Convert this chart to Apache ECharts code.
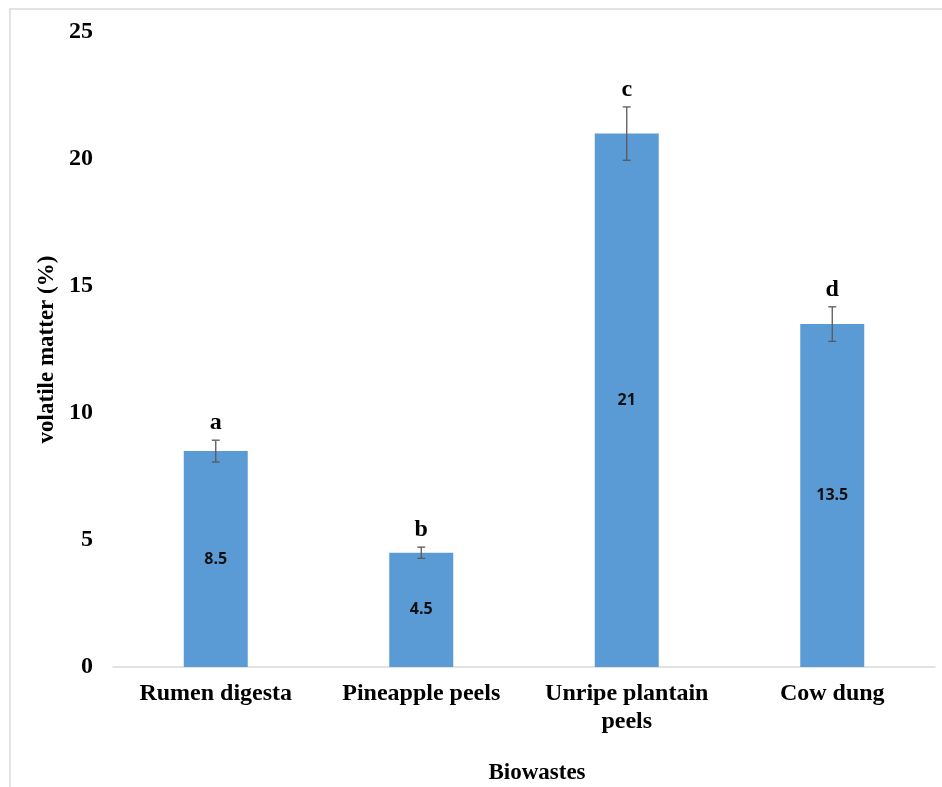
<!DOCTYPE html>
<html>
<head>
<meta charset="utf-8">
<script src="https://cdn.jsdelivr.net/npm/echarts@6/dist/echarts.min.js"></script>
<style>html,body{margin:0;padding:0;background:#fff}#c{width:942px;height:787px}</style>
</head>
<body>
<div id="c"></div>
<script>
var categories = ['Rumen digesta', 'Pineapple peels', 'Unripe plantain\npeels', 'Cow dung'];
var values = [8.5, 4.5, 21, 13.5];
var errors = [0.43, 0.22, 1.05, 0.68];
var letters = ['a', 'b', 'c', 'd'];
var yTicks = [0, 5, 10, 15, 20, 25];

var serif = '"Liberation Serif", "Times New Roman", serif';
var chart = echarts.init(document.getElementById('c'));
var errData = values.map(function (v, i) { return [i, v - errors[i], v + errors[i], letters[i]]; });

chart.setOption({
  animation: false,
  backgroundColor: '#fff',
  grid: { left: 113, right: 7, top: 32, bottom: 120, containLabel: false },
  graphic: [
    { type: 'rect', shape: { x: 10, y: 9, width: 960, height: 800 }, style: { fill: 'none', stroke: '#d9d9d9', lineWidth: 1.5 }, silent: true },
    { type: 'text', x: 537, y: 773, style: { text: 'Biowastes', font: 'bold 23px ' + serif, fill: '#000', textAlign: 'center', textVerticalAlign: 'middle' } }
  ],
  xAxis: {
    type: 'category',
    data: categories,
    axisLine: { lineStyle: { color: '#d9d9d9', width: 1.5 } },
    axisTick: { show: false },
    axisLabel: { interval: 0, hideOverlap: false, color: '#000', fontFamily: serif, fontWeight: 'bold', fontSize: 24, margin: 13, lineHeight: 28 }
  },
  yAxis: {
    type: 'value',
    min: yTicks[0], max: yTicks[yTicks.length - 1], interval: 5,
    name: 'volatile matter (%)',
    nameLocation: 'middle',
    nameGap: 52,
    nameTextStyle: { color: '#000', fontFamily: serif, fontWeight: 'bold', fontSize: 23 },
    axisLine: { show: false },
    axisTick: { show: false },
    splitLine: { show: false },
    axisLabel: { color: '#000', fontFamily: serif, fontWeight: 'bold', fontSize: 24, margin: 20 }
  },
  series: [
    {
      type: 'bar',
      data: values,
      barWidth: 64,
      itemStyle: { color: '#5b9bd5' },
      label: { show: true, position: 'inside', color: '#111', fontFamily: '"Open Sans", "DejaVu Sans", sans-serif', fontWeight: 'bold', fontSize: 16 }
    },
    {
      type: 'custom',
      data: errData,
      z: 10,
      renderItem: function (params, api) {
        var x = api.value(0);
        var lo = api.coord([x, api.value(1)]);
        var hi = api.coord([x, api.value(2)]);
        var cap = 4;
        var st = { stroke: '#595959', lineWidth: 1.3 };
        return {
          type: 'group',
          children: [
            { type: 'line', shape: { x1: hi[0], y1: hi[1], x2: lo[0], y2: lo[1] }, style: st },
            { type: 'line', shape: { x1: hi[0] - cap, y1: hi[1], x2: hi[0] + cap, y2: hi[1] }, style: st },
            { type: 'line', shape: { x1: lo[0] - cap, y1: lo[1], x2: lo[0] + cap, y2: lo[1] }, style: st },
            { type: 'text', x: hi[0], y: hi[1] - 5, style: { text: letters[params.dataIndex], font: 'bold 24px ' + serif, fill: '#000', textAlign: 'center', textVerticalAlign: 'bottom' } }
          ]
        };
      }
    }
  ]
});
</script>
</body>
</html>
